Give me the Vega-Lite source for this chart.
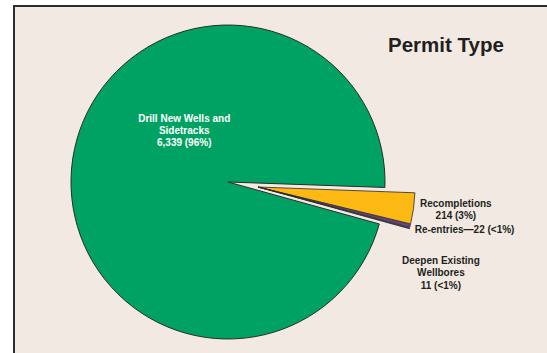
{
  "$schema": "https://vega.github.io/schema/vega-lite/v6.json",
  "width": 533,
  "height": 347,
  "autosize": {"type": "none"},
  "padding": {"left": 14, "top": 6, "right": 0, "bottom": 0},
  "background": "white",
  "view": {"fill": "#f2e9e3", "stroke": "#2e2e2e", "strokeWidth": 2, "strokeDash": [533, 880, 347]},
  "config": {
    "font": "Liberation Sans"
  },
  "title": {
    "text": "Permit Type",
    "anchor": "start",
    "frame": "group",
    "orient": "top",
    "dx": 374,
    "offset": -66,
    "baseline": "alphabetic",
    "fontSize": 20.5,
    "fontWeight": "bold",
    "font": "Liberation Sans",
    "color": "#231f20"
  },
  "data": {
    "values": [
      {"type": "Recompletions", "permits": 214, "k": 1, "lbl": "Recompletions\n214 (3%)"},
      {"type": "Re-entries", "permits": 22, "k": 2, "lbl": "Re-entries—22 (<1%)"},
      {"type": "Deepen Existing Wellbores", "permits": 11, "k": 3, "lbl": "Deepen Existing\nWellbores\n11 (<1%)"},
      {"type": "Drill New Wells and Sidetracks", "permits": 6339, "k": 4, "lbl": "Drill New Wells and\nSidetracks\n6,339 (96%)"}
    ]
  },
  "encoding": {
    "theta": {"field": "permits", "type": "quantitative", "stack": true, "scale": {"range": [1.6057, 7.8889]}},
    "order": {"field": "k", "type": "quantitative"},
    "detail": {"field": "type", "type": "nominal"}
  },
  "layer": [
    {
      "mark": {"type": "arc", "x": 214, "y": 176, "outerRadius": 157, "stroke": "#2b2b2b", "strokeWidth": 1},
      "encoding": {
        "color": {"field": "type", "type": "nominal", "legend": null,
          "scale": {"domain": ["Recompletions", "Re-entries", "Deepen Existing Wellbores", "Drill New Wells and Sidetracks"],
                    "range": ["#fdb913", "#7b3f8e", "#1f4a7c", "#00a263"]}},
        "opacity": {"condition": {"test": "datum.k === 4", "value": 1}, "value": 0}
      }
    },
    {
      "mark": {"type": "arc", "x": 244, "y": 181, "outerRadius": 157, "stroke": "#2b2b2b", "strokeWidth": 0.8, "padAngle": 0.004},
      "encoding": {
        "color": {"field": "type", "type": "nominal", "legend": null},
        "opacity": {"condition": {"test": "datum.k !== 4", "value": 1}, "value": 0}
      }
    },
    {
      "mark": {"type": "text", "x": 214, "y": 176, "radius": 67, "thetaOffset": 0.706, "dy": -12, "fontSize": 10, "fontWeight": "bold", "lineBreak": "\n", "lineHeight": 12, "align": "center", "baseline": "middle"},
      "encoding": {
        "text": {"condition": {"test": "datum.k === 4", "field": "lbl"}, "value": ""},
        "color": {"value": "#ffffff"}
      }
    },
    {
      "mark": {"type": "text", "x": 214, "y": 176, "radius": 230, "dy": -9, "fontSize": 10, "fontWeight": "bold", "lineBreak": "\n", "lineHeight": 11.5, "align": "center", "baseline": "middle"},
      "encoding": {
        "text": {"condition": {"test": "datum.k === 1", "field": "lbl"}, "value": ""},
        "color": {"value": "#231f20"}
      }
    },
    {
      "mark": {"type": "text", "x": 214, "y": 176, "radius": 240, "dx": 4, "dy": -11, "fontSize": 10, "fontWeight": "bold", "lineBreak": "\n", "lineHeight": 12, "align": "center", "baseline": "middle"},
      "encoding": {
        "text": {"condition": {"test": "datum.k === 2", "field": "lbl"}, "value": ""},
        "color": {"value": "#231f20"}
      }
    },
    {
      "mark": {"type": "text", "x": 214, "y": 176, "radius": 231, "dx": -10, "dy": 18, "fontSize": 10, "fontWeight": "bold", "lineBreak": "\n", "lineHeight": 12.5, "align": "center", "baseline": "middle"},
      "encoding": {
        "text": {"condition": {"test": "datum.k === 3", "field": "lbl"}, "value": ""},
        "color": {"value": "#231f20"}
      }
    }
  ]
}
